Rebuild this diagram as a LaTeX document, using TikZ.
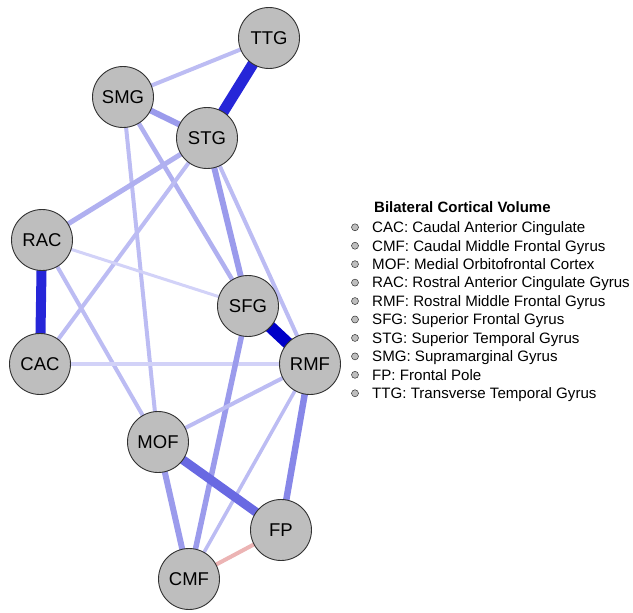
\documentclass[tikz,border=0pt]{standalone}
\usepackage{fontspec}
\setmainfont{Liberation Sans}
\definecolor{nodegray}{RGB}{190,190,190}
\definecolor{nodeline}{RGB}{50,50,50}
\definecolor{eLight}{RGB}{188,188,243}
\definecolor{eVlight}{RGB}{210,210,248}
\definecolor{eLmed}{RGB}{176,176,240}
\definecolor{eMed}{RGB}{155,155,236}
\definecolor{eMed2}{RGB}{135,135,232}
\definecolor{eMofFp}{RGB}{105,105,226}
\definecolor{eDark}{RGB}{38,38,216}
\definecolor{eDarkest}{RGB}{0,0,200}
\definecolor{ePink}{RGB}{236,180,180}
\tikzset{
  region/.style={circle, fill=nodegray, draw=nodeline, line width=0.9pt,
    minimum size=61pt, inner sep=0pt, font=\fontsize{18.5}{22}\selectfont},
  edge/.style={line cap=butt},
  legtext/.style={anchor=base west, inner sep=0pt, font=\fontsize{15.1}{17}\selectfont},
  legdot/.style={circle, fill=nodegray, draw=nodeline, line width=0.5pt, minimum size=7pt, inner sep=0pt}
}
\begin{document}
\begin{tikzpicture}[x=1pt,y=-1pt]
\useasboundingbox (0,0) rectangle (633,613);
% node coordinates
\coordinate (pTTG) at (269,38);
\coordinate (pSMG) at (123,97);
\coordinate (pSTG) at (207,138);
\coordinate (pRAC) at (42,240);
\coordinate (pSFG) at (248,306);
\coordinate (pCAC) at (40,364);
\coordinate (pRMF) at (310,364);
\coordinate (pMOF) at (158,442);
\coordinate (pFP) at (281,530);
\coordinate (pCMF) at (189,579);
% edges
\draw[edge, eLight, line width=4pt] (pTTG) -- (pSMG);
\draw[edge, eMed, line width=6pt] (pSMG) -- (pSTG);
\draw[edge, eLight, line width=4pt] (pSMG) -- (pMOF);
\draw[edge, eLmed, line width=4.5pt] (pSMG) -- (pSFG);
\draw[edge, eLmed, line width=5pt] (pSTG) -- (pRAC);
\draw[edge, eLight, line width=4pt] (pSTG) -- (pCAC);
\draw[edge, eMed, line width=6pt] (pSTG) -- (pSFG);
\draw[edge, eLight, line width=4pt] (pSTG) -- (pRMF);
\draw[edge, eVlight, line width=3pt] (pRAC) -- (pSFG);
\draw[edge, eLight, line width=4pt] (pRAC) -- (pMOF);
\draw[edge, eVlight, line width=3.5pt] (pCAC) -- (pRMF);
\draw[edge, eMed, line width=5.5pt] (pSFG) -- (pCMF);
\draw[edge, eLight, line width=4pt] (pRMF) -- (pMOF);
\draw[edge, eLight, line width=3.5pt] (pRMF) -- (pCMF);
\draw[edge, eMed2, line width=6.5pt] (pRMF) -- (pFP);
\draw[edge, eMofFp, line width=9pt] (pMOF) -- (pFP);
\draw[edge, eMed, line width=6pt] (pMOF) -- (pCMF);
\draw[edge, ePink, line width=4pt] (pFP) -- (pCMF);
\draw[edge, eDark, line width=11pt] (pTTG) -- (pSTG);
\draw[edge, eDark, line width=10pt] (pRAC) -- (pCAC);
\draw[edge, eDarkest, line width=12pt] (pSFG) -- (pRMF);
% nodes
\node[region] (TTG) at (pTTG) {TTG};
\node[region] (SMG) at (pSMG) {SMG};
\node[region] (STG) at (pSTG) {STG};
\node[region] (RAC) at (pRAC) {RAC};
\node[region] (SFG) at (pSFG) {SFG};
\node[region] (CAC) at (pCAC) {CAC};
\node[region] (RMF) at (pRMF) {RMF};
\node[region] (MOF) at (pMOF) {MOF};
\node[region] (FP) at (pFP) {FP};
\node[region] (CMF) at (pCMF) {CMF};
% legend
\node[legtext, font=\fontsize{15}{17}\selectfont\bfseries] (legtitle) at (374,212.3) {Bilateral Cortical Volume};
\foreach \lab [count=\i from 0] in {CAC: Caudal Anterior Cingulate, CMF: Caudal Middle Frontal Gyrus, MOF: Medial Orbitofrontal Cortex, RAC: Rostral Anterior Cingulate Gyrus, RMF: Rostral Middle Frontal Gyrus, SFG: Superior Frontal Gyrus, STG: Superior Temporal Gyrus, SMG: Supramarginal Gyrus, FP: Frontal Pole, TTG: Transverse Temporal Gyrus}{
  \node[legdot] (dot\i) at (355,{227.3+18.44*\i}) {};
  \node[legtext] (leg\i) at (372,{232.6+18.44*\i}) {\lab};
}
\end{tikzpicture}
\end{document}
